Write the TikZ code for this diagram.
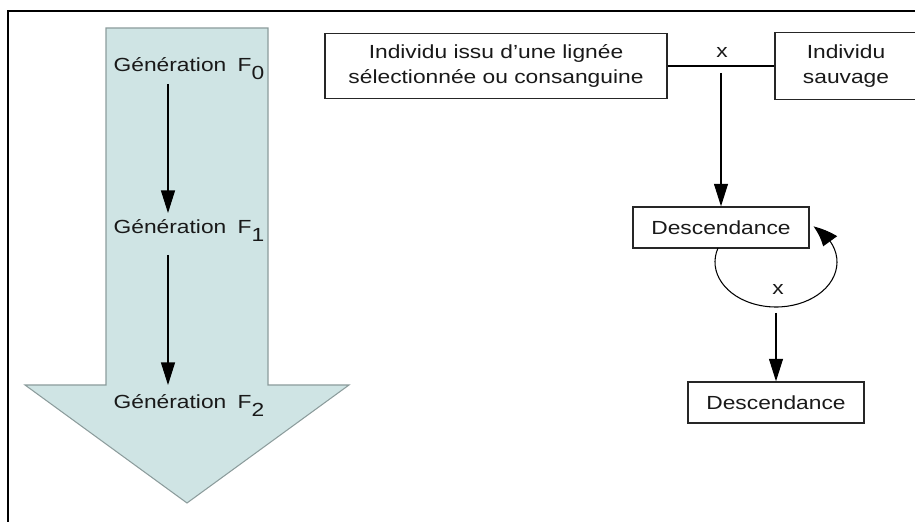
\documentclass[tikz,border=0pt]{standalone}
\usepackage{fontspec}
\setmainfont{Liberation Sans}[FakeStretch=1.2]
\usepackage{tikz}
\usetikzlibrary{arrows.meta,bending,positioning,calc}
\definecolor{bleuvert}{HTML}{CFE4E4}
\definecolor{grisbord}{HTML}{8C9C9C}

\newcommand{\gen}[1]{Génération\hspace{0.6em}F\raisebox{-0.38em}{#1}}

\begin{document}
\begin{tikzpicture}[
    boite/.style={rectangle, draw=black!85, line width=0.8pt, align=center, inner sep=0pt},
    fleche/.style={line width=0.6pt, -{Triangle[length=0.45cm,width=0.28cm]}},
    txt/.style={text=black!90, font=\fontsize{10.8}{14.2}\selectfont}]

\useasboundingbox (0,0) rectangle (18.3,10.42);
% cadre
\draw[line width=0.8pt] (0.16,-0.2) -- (0.16,10.2) -- (18.5,10.2);

% grande fleche
\draw[fill=bleuvert, draw=grisbord, line width=0.6pt]
    (2.12,9.86) -- (5.36,9.86) -- (5.36,2.72) -- (6.98,2.72)
    -- (3.74,0.36) -- (0.5,2.72) -- (2.12,2.72) -- cycle;

\node[txt, anchor=base] (g0) at (3.78,8.98) {\gen{0}};
\node[txt, anchor=base] (g1) at (3.78,5.74) {\gen{1}};
\node[txt, anchor=base] (g2) at (3.78,2.24) {\gen{2}};

\draw[fleche] ($(g0.base)+(-0.42,-0.24)$) -- ($(g1.base)+(-0.42,0.42)$);
\draw[fleche] ($(g1.base)+(-0.42,-0.42)$) -- ($(g2.base)+(-0.42,0.48)$);

% croisement
\node[boite, txt, minimum width=6.84cm, minimum height=1.31cm]
    (lignee) at (9.92,9.1) {Individu issu d'une lignée\\sélectionnée ou consanguine};
\node[boite, txt, minimum width=2.84cm, minimum height=1.34cm]
    (sauvage) at (16.92,9.1) {Individu\\sauvage};
\draw[line width=0.6pt] (lignee.east) -- (sauvage.west);
\node[txt] (x1) at (14.44,9.38) {x};

\coordinate (croise) at (14.42,8.96);
\node[boite, txt, minimum width=3.52cm, minimum height=0.82cm]
    (desc1) at (14.42,5.87) {Descendance};
\draw[fleche] (croise) -- (desc1.north);

% boucle
\coordinate (boucle) at (15.52,5.18);
\draw[fleche, -{Triangle[length=0.46cm,width=0.34cm,bend]}]
    ($(boucle)+(162:1.22 and 0.9)$)
    arc[start angle=162, end angle=412, x radius=1.22, y radius=0.9];
\node[txt] (x2) at (15.56,4.64) {x};

\coordinate (sortie) at (15.52,4.16);
\node[boite, txt, minimum width=3.52cm, minimum height=0.82cm]
    (desc2) at (15.52,2.37) {Descendance};
\draw[fleche] (sortie) -- (desc2.north);

\end{tikzpicture}
\end{document}
